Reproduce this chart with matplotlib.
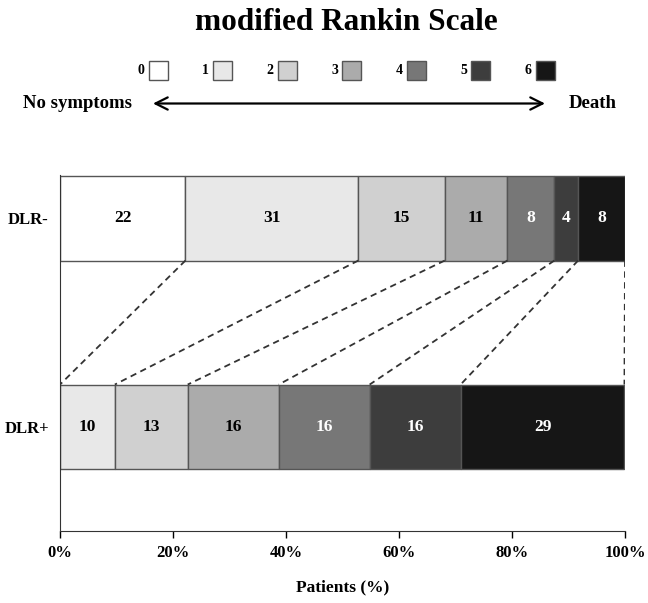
import numpy as np
import matplotlib.pyplot as plt
from matplotlib.patches import Rectangle

plt.rcParams['font.family'] = ['Liberation Serif', 'DejaVu Serif']
plt.rcParams['font.weight'] = 'bold'
plt.rcParams['axes.labelweight'] = 'bold'

# mRS grades and share of patients (%) per group
grades = ['0', '1', '2', '3', '4', '5', '6']
groups = ['DLR+', 'DLR-']
dlr_neg = [22.2, 30.6, 15.3, 11.1, 8.3, 4.2, 8.3]
dlr_pos = [0.0, 9.7, 12.9, 16.1, 16.1, 16.1, 29.0]
colors = ['#ffffff', '#e8e8e8', '#d0d0d0', '#ababab', '#777777', '#3d3d3d', '#161616']
txt_colors = ['black', 'black', 'black', 'black', 'white', 'white', 'white']
xticks = [0, 20, 40, 60, 80, 100]

W, H = 648, 603
fig = plt.figure(figsize=(W / 100, H / 100), dpi=100)

# header: title, legend, arrow (pixel coordinates)
hax = fig.add_axes([0, 0, 1, 1])
hax.set_xlim(0, W)
hax.set_ylim(H, 0)
hax.axis('off')
hax.text(346, 23, 'modified Rankin Scale', ha='center', va='center',
         fontsize=22.5, fontweight='bold')
for i, g in enumerate(grades):
    x0 = 148.5 + 64.5 * i
    hax.add_patch(Rectangle((x0, 60.5), 19, 19.5, facecolor=colors[i],
                            edgecolor='#555555', lw=1.0))
    hax.text(x0 - 4, 71, g, ha='right', va='center', fontsize=10,
             fontweight='bold')
hax.annotate('', xy=(545, 103.5), xytext=(153, 103.5),
             arrowprops=dict(arrowstyle='<->', lw=1.6, color='black',
                             mutation_scale=22, shrinkA=0, shrinkB=0))
hax.text(23, 104, 'No symptoms', ha='left', va='center', fontsize=13.5,
         fontweight='bold')
hax.text(617, 104, 'Death', ha='right', va='center', fontsize=13.5,
         fontweight='bold')

# main chart
ax = fig.add_axes([60 / W, 1 - 531 / H, (625 - 60) / W, (531 - 175.5) / H])
ypos = np.arange(len(groups))
bh = 0.405
data = {'DLR+': dlr_pos, 'DLR-': dlr_neg}
for yi, grp in zip(ypos, groups):
    vals = np.array(data[grp])
    lefts = np.concatenate([[0], np.cumsum(vals)[:-1]])
    for k in range(len(grades)):
        if vals[k] <= 0:
            continue
        ax.barh(yi, vals[k], left=lefts[k], height=bh, color=colors[k],
                edgecolor='#555555', linewidth=1.0)
        ax.text(lefts[k] + vals[k] / 2, yi, '%d' % round(vals[k]),
                ha='center', va='center', fontsize=12.5, fontweight='bold',
                color=txt_colors[k])

# dashed connectors between cumulative boundaries
cum_neg = np.cumsum(dlr_neg)
cum_pos = np.cumsum(dlr_pos)
for k in range(len(grades)):
    if k > 0 and cum_pos[k] == cum_pos[k - 1]:
        continue
    xn = min(cum_neg[k], 100)
    xp = min(cum_pos[k], 100)
    ax.plot([xn, xp], [1 - bh / 2, 0 + bh / 2], ls=(0, (3.5, 2.5)),
            color='#333333', lw=1.3)

ax.set_xlim(0, 100)
ax.set_ylim(-0.5, 1 + bh / 2 + 0.003)
ax.set_yticks(ypos)
ax.set_yticklabels(groups, fontsize=12, fontweight='bold')
ax.tick_params(axis='y', length=0, pad=8)
ax.set_xticks(xticks)
ax.set_xticklabels(['%d%%' % t for t in xticks], fontsize=12,
                   fontweight='bold')
ax.tick_params(axis='x', length=5, width=1, direction='out', pad=5)
ax.spines['top'].set_visible(False)
ax.spines['right'].set_visible(False)
ax.spines['left'].set_color('#333333')
ax.spines['bottom'].set_color('#333333')
ax.set_xlabel('Patients (%)', fontsize=12.5, fontweight='bold', labelpad=13)

fig.savefig('out.png', dpi=100)
